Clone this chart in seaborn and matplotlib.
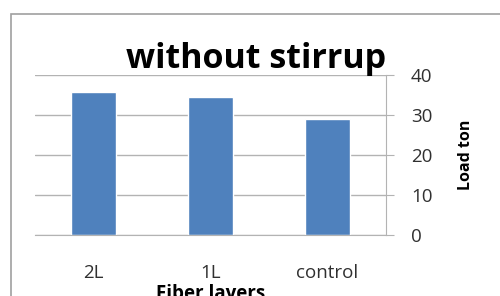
import matplotlib
matplotlib.use("Agg")
import matplotlib.pyplot as plt
import seaborn as sns
import pandas as pd
from matplotlib.patches import Rectangle

layers = ["2L", "1L", "control"]
load_ton = [35.7, 34.6, 29.0]
y_ticks = [0, 10, 20, 30, 40]

df = pd.DataFrame({"layer": layers, "load": load_ton})

sns.set_style("white")
plt.rcParams["font.family"] = ["Open Sans", "DejaVu Sans"]

fig = plt.figure(figsize=(5, 2.96), dpi=100)
ax = fig.add_axes([0.07, 0.206, 0.702, 0.541])

sns.barplot(data=df, x="layer", y="load", color="#4f81bd", saturation=1,
            width=0.39, ax=ax)

ax.set_ylim(0, 40)
ax.set_yticks(y_ticks)
ax.yaxis.tick_right()
ax.yaxis.set_label_position("right")
ax.grid(axis="y", color="#b3b3b3", linewidth=1)
ax.set_axisbelow(True)
for s in ["left", "top"]:
    ax.spines[s].set_visible(False)
ax.spines["right"].set_color("#b3b3b3")
ax.spines["bottom"].set_color("#b3b3b3")
ax.tick_params(axis="y", direction="out", length=6, color="#b3b3b3",
               labelsize=13.5, pad=12, right=True, labelcolor="#303030")
ax.tick_params(axis="x", length=0, labelsize=13.5, pad=21, labelcolor="#303030")

ax.set_xlabel("Fiber layers", fontsize=13.5, fontweight="bold", labelpad=1,
              color="black")
ax.set_ylabel("Load ton", fontsize=11.5, fontweight="bold", labelpad=18,
              color="black")
# title sits with its baseline just above the top gridline
ax.text(0.63, 1.044, "without stirrup", transform=ax.transAxes, ha="center",
        va="baseline", fontsize=24.5, fontweight="bold", color="black")

fig.patches.append(Rectangle((0.022, -0.1), 1.2, 1.053, transform=fig.transFigure,
                             fill=False, edgecolor="#a0a0a0", linewidth=1.2))

fig.savefig("out.png", dpi=100)
